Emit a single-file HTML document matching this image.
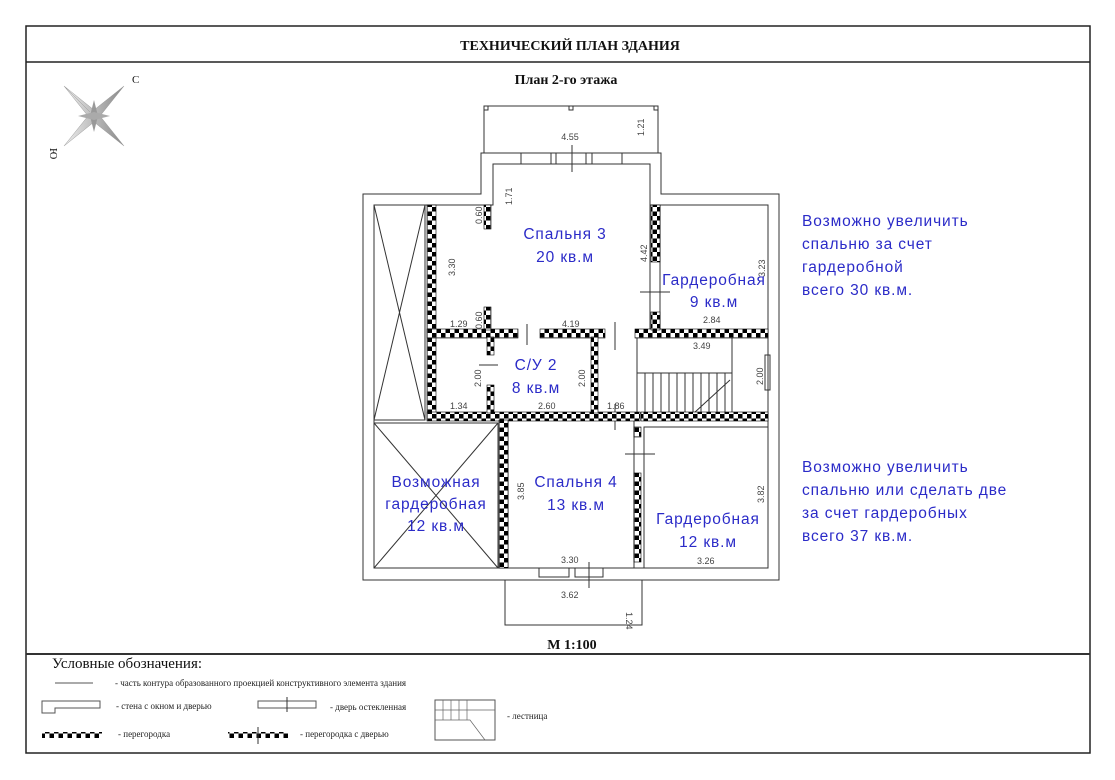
<!DOCTYPE html>
<html><head><meta charset="utf-8"><style>
html,body{margin:0;padding:0;background:#fff;width:1115px;height:780px;overflow:hidden}
svg{display:block}
.b{font-family:"Liberation Sans","DejaVu Sans",sans-serif;fill:#2b2bc8;font-size:15.5px;letter-spacing:0.9px}
.d{font-family:"Liberation Sans",sans-serif;fill:#444;font-size:9px}
.s{font-family:"Liberation Serif",serif;fill:#111}
.l{font-family:"Liberation Serif",serif;fill:#222;font-size:9px}
</style></head><body>
<svg width="1115" height="780" viewBox="0 0 1115 780">
<defs>
<pattern id="ch" width="9" height="9" patternUnits="userSpaceOnUse">
<rect width="9" height="9" fill="#fff"/><rect width="4.5" height="4.5" fill="#000"/><rect x="4.5" y="4.5" width="4.5" height="4.5" fill="#000"/>
</pattern>
<linearGradient id="g" x1="0" x2="1"><stop offset="0" stop-color="#eee"/><stop offset="1" stop-color="#888"/></linearGradient>
</defs>
<rect x="26" y="26" width="1064" height="727" fill="none" stroke="#222" stroke-width="1.5"/>
<line x1="26" y1="62" x2="1090" y2="62" stroke="#222" stroke-width="1.5"/>
<line x1="26" y1="654" x2="1090" y2="654" stroke="#333" stroke-width="2"/>
<text x="570" y="50" text-anchor="middle" class="s" font-size="14" font-weight="bold">ТЕХНИЧЕСКИЙ ПЛАН ЗДАНИЯ</text>
<text x="566" y="84" text-anchor="middle" class="s" font-size="14" font-weight="bold">План  2-го  этажа</text>
<text x="572" y="649" text-anchor="middle" class="s" font-size="14" font-weight="bold">М 1:100</text>
<g transform="translate(94,116)">
<polygon points="-30,-30 -4,-4 -30,-30 0,-6 30,-30 6,0 30,30 0,6 -30,30 -6,0" fill="url(#g)" stroke="#999" stroke-width="0.5"/>
<polygon points="0,-16 4,0 0,16 -4,0" fill="#999"/><polygon points="-16,0 0,-4 16,0 0,4" fill="#aaa"/>
<text x="38" y="-33" class="s" font-size="11" fill="#555">С</text>
<text x="-44" y="40" class="s" font-size="11" fill="#555" transform="rotate(90 -40 36)">Ю</text>
</g>
<g fill="none" stroke="#333" stroke-width="1">
<rect x="484" y="106" width="174" height="47"/>
<rect x="484" y="106" width="4" height="4"/><rect x="654" y="106" width="4" height="4"/><rect x="569" y="106" width="4" height="4"/>
<path d="M481 153 H661 V194 H779 V580 H363 V194 H481 Z"/>
<path d="M493 164 H650 V205 H768 V568 H374 V205 H493 Z"/>
<rect x="521" y="153" width="30" height="11"/><rect x="592" y="153" width="30" height="11"/>
<line x1="556" y1="153" x2="556" y2="164"/><line x1="586" y1="153" x2="586" y2="164"/>
<line x1="572" y1="145" x2="572" y2="172"/>
<rect x="374" y="205" width="51" height="215"/>
<line x1="374" y1="205" x2="425" y2="420"/><line x1="425" y1="205" x2="374" y2="420"/>
<rect x="374" y="423" width="124" height="145"/>
<line x1="374" y1="423" x2="498" y2="568"/><line x1="498" y1="423" x2="374" y2="568"/>
<line x1="650" y1="164" x2="650" y2="330"/>
<line x1="493" y1="164" x2="493" y2="205"/>
<rect x="660" y="205" width="108" height="125"/>
<rect x="637" y="337" width="131" height="76"/>
<line x1="732" y1="337" x2="732" y2="413"/>
<rect x="765" y="355" width="5" height="35"/>
<rect x="508" y="420" width="126" height="148"/>
<rect x="644" y="427" width="124" height="141"/>
<line x1="637" y1="373" x2="732" y2="373"/>
<path d="M645 373 V413 M653 373 V413 M661 373 V413 M669 373 V413 M677 373 V413 M685 373 V413 M693 373 V413 M701 373 V413 M709 373 V413 M717 373 V413 M725 373 V413"/>
<line x1="694" y1="413" x2="730" y2="380"/>
<rect x="505" y="580" width="137" height="45"/>
<rect x="539" y="568" width="30" height="9"/><rect x="575" y="568" width="28" height="9"/>
<line x1="589" y1="562" x2="589" y2="588"/>
<line x1="527" y1="324" x2="527" y2="345"/><line x1="615" y1="322" x2="615" y2="350"/>
<line x1="640" y1="292" x2="670" y2="292"/><line x1="479" y1="365" x2="498" y2="365"/>
<line x1="615" y1="404" x2="615" y2="430"/><line x1="625" y1="454" x2="655" y2="454"/>
</g>
<g fill="url(#ch)" stroke="#000" stroke-width="0.6">
<rect x="427" y="205" width="9" height="215"/>
<rect x="427" y="329" width="91" height="9"/><rect x="540" y="329" width="65" height="9"/><rect x="635" y="329" width="133" height="9"/>
<rect x="484" y="205" width="7" height="24"/><rect x="484" y="307" width="7" height="23"/>
<rect x="651" y="205" width="9" height="57"/><rect x="651" y="312" width="9" height="18"/>
<rect x="427" y="412" width="213" height="9"/><rect x="641" y="412" width="127" height="9"/>
<rect x="487" y="337" width="7" height="18"/><rect x="487" y="385" width="7" height="28"/>
<rect x="591" y="337" width="7" height="76"/>
<rect x="499" y="420" width="9" height="148"/>
<rect x="634" y="427" width="7" height="10"/><rect x="634" y="473" width="7" height="89"/>
</g>
<text x="570" y="140" text-anchor="middle" class="d">4.55</text>
<text class="d" transform="translate(644,136) rotate(-90)">1.21</text>
<text class="d" transform="translate(512,205) rotate(-90)">1.71</text>
<text class="d" transform="translate(482,224) rotate(-90)">0.60</text>
<text class="d" transform="translate(455,276) rotate(-90)">3.30</text>
<text class="d" transform="translate(647,262) rotate(-90)">4.42</text>
<text class="d" transform="translate(765,277) rotate(-90)">3.23</text>
<text class="d" transform="translate(482,329) rotate(-90)">0.60</text>
<text x="450" y="327" class="d">1.29</text><text x="562" y="327" class="d">4.19</text><text x="703" y="323" class="d">2.84</text>
<text x="693" y="349" class="d">3.49</text>
<text class="d" transform="translate(481,387) rotate(-90)">2.00</text>
<text class="d" transform="translate(585,387) rotate(-90)">2.00</text>
<text class="d" transform="translate(763,385) rotate(-90)">2.00</text>
<text x="450" y="409" class="d">1.34</text><text x="538" y="409" class="d">2.60</text><text x="607" y="409" class="d">1.86</text>
<text class="d" transform="translate(524,500) rotate(-90)">3.85</text>
<text class="d" transform="translate(764,503) rotate(-90)">3.82</text>
<text x="561" y="563" class="d">3.30</text><text x="697" y="564" class="d">3.26</text>
<text x="561" y="598" class="d">3.62</text>
<text class="d" transform="translate(626,612) rotate(90)">1.24</text>
<text x="565" y="239" text-anchor="middle" class="b">Спальня  3</text>
<text x="565" y="262" text-anchor="middle" class="b">20  кв.м</text>
<text x="714" y="285" text-anchor="middle" class="b">Гардеробная</text>
<text x="714" y="307" text-anchor="middle" class="b">9  кв.м</text>
<text x="536" y="370" text-anchor="middle" class="b">С/У  2</text>
<text x="536" y="393" text-anchor="middle" class="b">8  кв.м</text>
<text x="436" y="487" text-anchor="middle" class="b">Возможная</text>
<text x="436" y="509" text-anchor="middle" class="b">гардеробная</text>
<text x="436" y="531" text-anchor="middle" class="b">12  кв.м</text>
<text x="576" y="487" text-anchor="middle" class="b">Спальня  4</text>
<text x="576" y="510" text-anchor="middle" class="b">13  кв.м</text>
<text x="708" y="524" text-anchor="middle" class="b">Гардеробная</text>
<text x="708" y="547" text-anchor="middle" class="b">12  кв.м</text>
<text x="802" y="226" class="b">Возможно  увеличить</text>
<text x="802" y="249" class="b">спальню  за  счет</text>
<text x="802" y="272" class="b">гардеробной</text>
<text x="802" y="295" class="b">всего  30  кв.м.</text>
<text x="802" y="472" class="b">Возможно  увеличить</text>
<text x="802" y="495" class="b">спальню  или  сделать  две</text>
<text x="802" y="518" class="b">за  счет  гардеробных</text>
<text x="802" y="541" class="b">всего  37  кв.м.</text>
<text x="52" y="668" class="s" font-size="15">Условные обозначения:</text>
<line x1="55" y1="683" x2="93" y2="683" stroke="#555"/>
<text x="115" y="686" class="l">-  часть контура образованного проекцией  конструктивного элемента здания</text>
<path d="M42 713 V701 H100 V708 H55 V713 Z" fill="none" stroke="#555"/>
<text x="116" y="709" class="l">-  стена с окном и дверью</text>
<rect x="258" y="701" width="58" height="7" fill="none" stroke="#555"/><line x1="287" y1="697" x2="287" y2="712" stroke="#333"/>
<text x="330" y="710" class="l">-  дверь остекленная</text>
<rect x="435" y="700" width="60" height="40" fill="none" stroke="#555"/>
<path d="M443 700 V720 M451 700 V720 M459 700 V720 M467 700 V720 M435 710 H495 M435 720 H470 L485 740" fill="none" stroke="#666" stroke-width="0.7"/>
<text x="507" y="719" class="l">-  лестница</text>
<rect x="42" y="732" width="60" height="6" fill="url(#ch)"/>
<text x="118" y="737" class="l">-  перегородка</text>
<rect x="228" y="732" width="60" height="6" fill="url(#ch)"/><line x1="258" y1="727" x2="258" y2="744" stroke="#333"/>
<text x="300" y="737" class="l">-  перегородка с дверью</text>
</svg>
</body></html>
